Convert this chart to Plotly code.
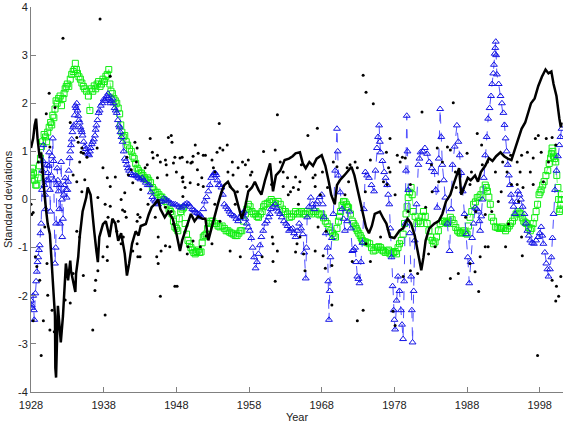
import plotly.graph_objects as go

# ---------------- data ----------------
black_years = [1928.0,1928.3,1928.5,1928.7,1928.9,1929.2,1929.4,1929.6,1929.9,1930.1,1930.3,1930.6,1930.8,1931.0,1931.3,1931.35,1931.45,1931.7,1932.0,1932.1,1932.4,1932.7,1932.8,1933.1,1933.4,1933.5,1933.8,1934.1,1934.2,1934.5,1934.7,1934.9,1935.1,1935.6,1935.8,1936.2,1936.4,1936.7,1937.0,1937.2,1937.4,1937.9,1938.3,1938.8,1939.2,1939.6,1940.0,1940.4,1940.9,1941.2,1941.5,1941.9,1942.4,1942.8,1943.1,1943.8,1944.2,1944.6,1945.0,1945.5,1945.8,1946.4,1946.9,1947.5,1948.0,1948.5,1948.8,1949.2,1949.6,1950.0,1950.5,1951.0,1951.6,1952.0,1952.4,1952.8,1953.3,1953.7,1954.2,1954.6,1955.1,1955.5,1956.0,1956.5,1957.0,1957.4,1957.9,1958.4,1958.8,1959.3,1959.7,1960.2,1960.9,1961.3,1961.7,1962.3,1962.9,1963.5,1964.0,1964.4,1965.0,1965.4,1965.8,1966.3,1966.8,1967.3,1968.0,1968.5,1968.7,1969.0,1969.3,1969.8,1970.1,1970.5,1971.1,1971.6,1972.1,1972.5,1972.8,1973.3,1973.8,1974.1,1974.5,1974.9,1975.3,1976.0,1976.5,1976.9,1977.4,1978.0,1978.7,1979.2,1979.8,1980.3,1980.8,1981.2,1981.7,1982.0,1982.3,1982.8,1983.5,1984.1,1984.6,1985.1,1985.7,1986.1,1986.6,1986.9,1987.2,1987.7,1988.1,1988.5,1989.1,1989.5,1989.9,1990.5,1991.0,1991.5,1992.0,1992.6,1993.1,1993.6,1994.1,1994.7,1995.5,1996.0,1996.8,1997.3,1997.8,1998.3,1998.8,1999.2,1999.6,1999.9,2000.3,2000.7,2000.9,2001.0]
black_vals = [1.07,1.27,1.54,1.68,1.27,0.86,0.98,0.51,0.04,-0.25,-0.51,-0.72,-1.19,-1.89,-2.42,-3.5,-3.7,-2.21,-2.7,-2.97,-2.42,-1.54,-1.33,-1.68,-1.27,-1.48,-1.74,-1.92,-1.54,-1.19,-0.78,-0.51,-0.25,0.04,0.25,0.10,-0.25,-0.66,-1.07,-1.3,-0.78,-0.51,-0.45,-0.78,-0.4,-0.5,-0.86,-0.7,-1.13,-1.58,-1.33,-0.92,-0.66,-0.75,-0.55,-0.51,-0.31,-0.16,-0.1,0.0,-0.2,-0.37,-0.25,-0.4,-0.7,-1.07,-0.85,-0.65,-0.5,-0.3,-0.45,-0.35,-0.4,-0.4,-0.85,-0.6,-0.35,-0.1,0.15,0.3,0.37,0.25,0.17,-0.1,-0.4,-0.2,0.17,0.25,0.37,0.2,0.1,0.4,0.75,0.17,0.5,0.6,0.82,0.85,0.9,0.96,0.98,0.75,0.65,0.78,0.7,0.85,0.92,0.7,0.57,0.35,0.1,-0.1,0.3,0.4,0.5,0.6,0.68,0.5,0.3,-0.04,-0.4,-0.58,-0.7,-0.55,-0.3,-0.25,-0.4,-0.5,-0.78,-0.8,-0.65,-0.6,-0.4,-0.5,-0.75,-1.07,-1.47,-1.2,-0.85,-0.6,-0.5,-0.45,-0.3,-0.04,0.1,0.3,0.5,0.65,0.1,0.3,0.45,0.4,0.5,0.37,0.57,0.7,0.86,0.8,0.9,0.98,0.9,0.85,0.82,1.1,1.47,1.6,2.0,2.1,2.36,2.55,2.7,2.62,2.66,2.4,2.15,1.68,1.5,1.6]

green_years = [1928.0,1928.2,1928.5,1928.8,1929.0,1929.3,1929.6,1930.0,1930.3,1930.7,1931.0,1931.3,1931.6,1932.0,1932.4,1932.7,1933.0,1933.4,1933.8,1934.1,1934.4,1934.8,1935.0,1935.4,1935.9,1936.1,1936.3,1936.7,1937.1,1937.5,1937.9,1938.3,1938.7,1939.0,1939.4,1939.8,1940.2,1940.5,1940.9,1941.3,1941.8,1942.2,1942.6,1943.0,1943.4,1943.8,1944.2,1944.7,1945.1,1945.6,1946.0,1946.5,1947.0,1947.4,1947.8,1948.2,1948.6,1949.0,1949.4,1949.8,1950.2,1950.6,1951.0,1951.4,1951.7,1952.1,1952.5,1953.0,1953.5,1954.0,1954.6,1955.1,1955.6,1956.1,1956.6,1957.0,1957.5,1957.9,1958.4,1958.9,1959.3,1959.8,1960.2,1960.8,1961.3,1962.0,1962.6,1963.0,1963.6,1964.1,1964.7,1965.2,1965.7,1966.3,1966.9,1967.5,1968.0,1968.5,1969.0,1969.5,1969.9,1970.3,1970.6,1971.0,1971.4,1971.7,1972.2,1972.6,1972.9,1973.3,1973.6,1974.0,1974.6,1975.1,1975.6,1976.1,1976.5,1977.0,1977.4,1977.9,1978.3,1978.7,1979.2,1979.6,1979.9,1980.3,1980.6,1981.1,1981.6,1982.0,1982.5,1983.0,1983.4,1983.8,1984.3,1984.9,1985.3,1985.7,1986.2,1986.7,1987.1,1987.6,1988.0,1988.4,1988.9,1989.4,1989.9,1990.5,1990.8,1991.2,1991.4,1991.9,1992.4,1992.8,1993.3,1993.8,1994.0,1994.5,1995.0,1995.4,1995.8,1996.2,1996.7,1997.1,1997.5,1997.9,1998.2,1998.6,1999.1,1999.5,1999.7,1999.9,2000.2,2000.5,2000.7,2000.9,2001.0]
green_vals = [0.57,0.65,0.40,0.30,0.45,0.86,1.2,1.3,1.4,1.6,1.75,1.88,2.0,2.15,2.1,2.3,2.4,2.5,2.66,2.83,2.62,2.5,2.42,2.3,2.15,1.85,2.3,2.36,2.4,2.35,2.5,2.56,2.7,2.25,2.1,2.0,1.78,1.4,1.33,1.13,1.0,0.85,0.65,0.55,0.5,0.42,0.4,0.25,0.15,0.1,0.05,-0.04,-0.2,-0.3,-0.57,-0.65,-0.25,-0.17,-0.72,-0.92,-1.05,-1.13,-1.05,-1.09,-0.78,-0.72,-0.5,-0.45,-0.5,-0.57,-0.6,-0.65,-0.7,-0.75,-0.7,-0.65,-0.3,-0.1,-0.25,-0.3,-0.37,-0.25,-0.1,-0.05,-0.04,-0.04,-0.2,-0.25,-0.37,-0.3,-0.3,-0.25,-0.3,-0.28,-0.25,-0.3,-0.3,-0.45,-0.57,-0.7,-0.78,-0.45,-0.25,-0.04,-0.1,-0.17,-0.45,-0.55,-0.65,-0.75,-0.85,-0.88,-0.92,-1.07,-1.0,-1.0,-1.07,-1.07,-1.13,-1.1,-1.13,-0.92,-0.72,-0.3,0.04,0.25,-0.25,-0.5,-0.5,-0.25,-0.5,-0.78,-0.92,-0.78,-0.5,-0.45,-0.5,-0.37,-0.5,-0.65,-0.7,-0.65,-0.72,-0.37,-0.1,0.04,0.1,0.3,0.17,-0.1,-0.37,-0.57,-0.6,-0.57,-0.65,-0.55,-0.5,-0.37,-0.25,-0.3,-0.45,-0.5,-0.65,-0.5,-0.25,0.1,0.2,0.37,0.6,0.86,1.07,0.9,0.78,0.25,-0.25,-0.1,0.1]
# additional (in-between) green observations
green_years_b = [1928.1,1928.35,1928.65,1929.15,1929.45,1929.8,1930.15,1930.5,1930.85,1931.15,1931.45,1931.8,1932.2,1932.55,1932.85,1933.2,1933.6,1933.95,1934.25,1934.6,1935.2,1935.65,1936.5,1936.9,1937.3,1937.7,1938.1,1938.5,1938.85,1939.2,1939.6,1940.0,1940.35,1940.7,1941.1,1941.55,1942.0,1942.4,1942.8,1943.2,1943.6,1944.0,1944.45,1944.9,1945.35,1945.8,1946.25,1946.75,1947.2,1947.6,1948.0,1948.4,1948.8,1949.2,1949.6,1950.0,1950.4,1950.8,1951.2,1951.55,1951.9,1952.3,1952.75,1953.25,1953.75,1954.3,1954.85,1955.35,1955.85,1956.35,1956.8,1957.25,1957.7,1958.15,1958.65,1959.1,1959.55,1960.0,1960.5,1961.05,1961.65,1962.3,1962.8,1963.3,1963.85,1964.4,1964.95,1965.45,1966.0,1966.6,1967.2,1967.75,1968.25,1968.75,1969.25,1969.7,1970.1,1970.45,1970.8,1971.2,1971.55,1971.95,1972.4,1972.75,1973.1,1973.45,1973.8,1974.3,1974.85,1975.35,1975.85,1976.3,1976.75,1977.2,1977.65,1978.1,1978.5,1978.95,1979.4,1979.75,1980.1,1980.45,1980.85,1981.35,1981.8,1982.25,1982.75,1983.2,1983.6,1984.05,1984.6,1985.1,1985.5,1985.95,1986.45,1986.9,1987.35,1987.8,1988.2,1988.65,1989.15,1989.65,1990.2,1990.65,1991.0,1991.65,1992.15,1992.6,1993.05,1993.55,1994.25,1994.75,1995.2,1995.6,1996.0,1996.45,1996.9,1997.3,1997.7,1998.05,1998.4,1998.85,1999.3,1999.6,1999.8,2000.05,2000.35,2000.6,2000.8,2000.95]
green_vals_b = [0.5,0.55,0.3,0.7,1.1,1.35,1.2,1.5,1.55,1.7,2.05,2.1,1.95,2.2,2.35,2.35,2.6,2.7,2.7,2.55,2.35,2.25,2.25,2.3,2.45,2.4,2.45,2.6,2.4,2.2,2.05,1.9,1.55,1.3,1.2,1.05,0.9,0.75,0.6,0.55,0.45,0.45,0.35,0.2,0.15,0.05,0.0,-0.1,-0.25,-0.45,-0.6,-0.4,-0.2,-0.5,-0.85,-1.0,-1.1,-1.08,-1.1,-0.9,-0.75,-0.6,-0.45,-0.5,-0.55,-0.55,-0.65,-0.68,-0.72,-0.75,-0.65,-0.45,-0.2,-0.15,-0.3,-0.35,-0.3,-0.15,-0.08,0.0,-0.08,-0.1,-0.25,-0.3,-0.35,-0.25,-0.28,-0.3,-0.25,-0.3,-0.25,-0.32,-0.38,-0.5,-0.65,-0.75,-0.6,-0.35,-0.12,-0.05,-0.15,-0.3,-0.5,-0.6,-0.7,-0.8,-0.88,-0.9,-1.0,-1.05,-0.98,-1.05,-1.1,-1.05,-1.12,-1.08,-1.0,-0.85,-0.5,-0.15,0.15,0.1,-0.35,-0.45,-0.35,-0.35,-0.65,-0.85,-0.88,-0.65,-0.45,-0.48,-0.45,-0.42,-0.58,-0.68,-0.68,-0.7,-0.55,-0.25,-0.05,0.05,0.2,0.25,0.05,-0.45,-0.58,-0.6,-0.6,-0.6,-0.45,-0.3,-0.28,-0.38,-0.48,-0.58,-0.6,-0.38,-0.1,0.15,0.3,0.5,0.75,0.95,1.0,0.85,0.5,0.0,-0.2,0.0]

blue_years = [1928.0,1928.15,1928.3,1928.45,1928.6,1928.8,1929.0,1929.2,1929.4,1929.55,1929.7,1929.85,1930.0,1930.2,1930.35,1930.5,1930.65,1930.8,1931.0,1931.15,1931.3,1931.45,1931.6,1931.8,1932.0,1932.15,1932.3,1932.5,1932.7,1932.9,1933.1,1933.3,1933.5,1933.7,1933.9,1934.1,1934.3,1934.5,1934.7,1934.9,1935.1,1935.4,1935.7,1936.0,1936.2,1936.5,1936.8,1937.0,1937.3,1937.6,1938.0,1938.3,1938.6,1938.9,1939.2,1939.5,1939.8,1940.1,1940.3,1940.6,1940.9,1941.2,1941.5,1941.9,1942.4,1942.8,1943.3,1943.8,1944.3,1944.7,1945.1,1945.5,1946.0,1946.5,1947.0,1947.6,1948.1,1948.7,1949.2,1949.7,1950.2,1950.6,1951.1,1951.5,1951.9,1952.4,1952.8,1953.2,1953.5,1953.8,1954.2,1954.6,1955.1,1955.5,1956.0,1956.5,1957.0,1957.3,1957.7,1958.1,1958.5,1958.9,1959.3,1959.7,1960.2,1960.7,1961.0,1961.6,1962.0,1962.5,1963.1,1963.5,1964.0,1964.4,1964.9,1965.4,1965.8,1966.0,1966.5,1967.0,1967.4,1968.0,1968.3,1968.8,1969.0,1969.2,1969.6,1970.1,1970.3,1970.8,1971.2,1971.8,1972.2,1972.6,1972.9,1973.2,1973.6,1974.0,1974.5,1975.2,1975.6,1975.9,1976.1,1976.6,1977.0,1977.3,1977.6,1977.9,1978.1,1978.5,1978.9,1979.2,1979.5,1979.7,1979.9,1980.3,1980.5,1980.8,1981.3,1981.6,1982.2,1982.8,1983.5,1983.9,1984.3,1984.6,1985.0,1985.6,1986.0,1986.6,1987.0,1987.4,1987.9,1988.3,1988.7,1989.1,1989.6,1989.8,1990.1,1990.5,1990.9,1991.3,1991.6,1991.8,1991.95,1992.1,1992.6,1993.0,1993.3,1993.6,1993.9,1994.2,1994.6,1995.0,1995.4,1995.9,1996.3,1996.7,1997.2,1997.8,1998.2,1998.5,1998.9,1999.2,1999.6,1999.9,2000.3,2000.7,2001.0]
blue_vals = [-2.1,-2.25,-2.0,-2.5,-1.95,-1.5,-1.2,-0.95,-0.5,0.6,1.13,0.3,-0.2,0.72,0.4,0.98,-0.25,0.5,1.27,0.4,-1.33,-0.5,0.65,0.17,-0.5,0.78,-0.78,0.1,0.45,0.04,0.37,0.86,1.13,1.4,1.54,1.95,2.0,1.74,1.6,1.45,1.33,1.1,0.98,0.92,1.07,1.2,1.33,1.54,1.8,1.95,2.08,2.1,2.2,2.0,2.1,1.9,1.8,1.54,1.4,1.2,0.85,0.72,0.6,0.51,0.5,0.45,0.45,0.35,0.3,0.05,-0.04,-0.1,-0.04,0.0,-0.04,-0.1,-0.12,-0.17,-0.1,-0.1,-0.2,-0.25,-0.3,-0.37,-0.04,0.17,0.45,0.55,0.51,0.3,0.25,-0.1,-0.2,-0.3,-0.35,-0.45,-0.3,-0.25,-0.5,-0.65,-1.0,-1.43,-1.13,-0.78,-0.5,-0.37,-0.2,-0.1,-0.25,-0.37,-0.5,-0.65,-0.6,-0.78,-0.5,-0.72,-1.64,-0.37,0.04,-0.2,-0.04,0.1,-0.37,-1.0,-2.5,-1.2,-0.3,1.47,0.5,-0.2,-0.65,-0.25,-1.07,-1.0,-1.6,-1.74,-0.9,0.57,0.45,0.17,1.07,1.54,0.98,0.57,0.3,-0.1,-1.2,-2.3,-2.7,-1.6,-2.3,-2.9,-0.5,1.74,0.2,-1.6,-2.97,-0.85,0.72,0.98,1.07,0.78,0.57,-0.17,1.88,0.72,0.04,-1.07,0.72,1.54,0.92,0.17,-0.72,-1.74,-0.8,-0.17,-0.25,-0.65,0.0,0.92,1.68,2.15,2.62,3.03,3.28,2.6,2.15,1.8,1.27,0.72,0.3,-0.04,-0.3,0.17,0.0,-0.3,-0.65,-0.85,-0.92,-0.78,-0.57,-0.92,-1.33,-1.6,-1.2,-0.3,0.6,1.13,1.47]
# additional (in-between) blue observations
blue_years_b = [1928.1,1928.4,1928.7,1928.9,1929.1,1929.3,1929.5,1929.65,1929.95,1930.1,1930.3,1930.45,1930.6,1930.9,1931.1,1931.4,1931.55,1931.7,1931.9,1932.1,1932.25,1932.4,1932.6,1932.8,1933.0,1933.2,1933.4,1933.6,1933.8,1934.0,1934.2,1934.4,1934.6,1934.8,1935.0,1935.25,1935.55,1935.85,1936.1,1936.35,1936.65,1936.9,1937.15,1937.45,1937.8,1938.15,1938.45,1938.75,1939.05,1939.35,1939.65,1939.95,1940.2,1940.45,1940.75,1941.05,1941.35,1941.7,1942.15,1942.6,1943.05,1943.55,1944.05,1944.5,1944.9,1945.3,1945.75,1946.25,1946.75,1947.3,1947.85,1948.4,1948.95,1949.45,1949.95,1950.4,1950.85,1951.3,1951.7,1952.15,1952.6,1953.0,1953.35,1953.65,1954.0,1954.4,1954.85,1955.3,1955.75,1956.25,1956.75,1957.15,1957.5,1957.9,1958.3,1958.7,1959.1,1959.5,1959.95,1960.45,1960.85,1961.3,1961.8,1962.25,1962.8,1963.3,1963.75,1964.2,1964.65,1965.15,1965.6,1965.9,1966.25,1966.75,1967.2,1967.7,1968.15,1968.55,1968.9,1969.1,1969.4,1969.85,1970.2,1970.55,1971.0,1971.5,1972.0,1972.4,1972.75,1973.05,1973.4,1973.8,1974.25,1974.85,1975.4,1975.75,1976.0,1976.35,1976.8,1977.15,1977.45,1977.75,1978.0,1978.3,1978.7,1979.05,1979.35,1979.6,1979.8,1980.1,1980.4,1980.65,1981.05,1981.45,1981.9,1982.5,1983.15,1983.7,1984.1,1984.45,1984.8,1985.3,1985.8,1986.3,1986.8,1987.2,1987.65,1988.1,1988.5,1988.9,1989.35,1989.7,1989.95,1990.3,1990.7,1991.1,1991.45,1991.7,1991.88,1992.0,1992.35,1992.8,1993.15,1993.45,1993.75,1994.05,1994.4,1994.8,1995.2,1995.65,1996.1,1996.5,1996.95,1997.5,1998.0,1998.35,1998.7,1999.05,1999.4,1999.75,2000.1,2000.5,2000.85]
blue_vals_b = [-2.2,-2.3,-1.7,-1.3,-1.05,-0.7,0.2,0.8,0.1,0.4,0.55,0.7,0.2,0.9,0.8,-1.0,0.3,0.4,-0.2,0.3,0.0,-0.4,0.3,0.2,0.2,0.6,1.0,1.25,1.5,1.75,1.9,1.85,1.65,1.5,1.4,1.2,1.05,0.95,1.0,1.15,1.25,1.45,1.65,1.85,2.0,2.05,2.15,2.1,2.05,2.0,1.85,1.65,1.5,1.3,1.0,0.8,0.65,0.55,0.5,0.48,0.42,0.4,0.3,0.15,0.0,-0.08,-0.05,0.02,-0.02,-0.08,-0.1,-0.15,-0.13,-0.08,-0.15,-0.22,-0.28,-0.33,-0.2,0.05,0.3,0.5,0.55,0.4,0.3,0.1,-0.15,-0.25,-0.33,-0.4,-0.38,-0.28,-0.4,-0.58,-0.8,-1.2,-1.3,-0.95,-0.65,-0.45,-0.3,-0.15,-0.18,-0.3,-0.45,-0.55,-0.62,-0.7,-0.65,-0.6,-1.1,-1.0,-0.15,-0.1,-0.1,0.05,-0.1,-0.7,-1.7,-1.9,-0.8,0.6,1.0,0.15,-0.4,-0.45,-0.6,-1.05,-1.3,-1.65,-1.3,-0.2,0.5,0.3,0.6,1.3,1.2,0.8,0.45,0.1,-0.6,-1.8,-2.5,-2.1,-1.9,-2.6,-1.7,0.6,1.0,-0.7,-2.3,-1.9,-0.1,0.85,1.0,0.95,0.65,0.2,0.85,1.3,0.4,-0.5,-0.2,1.1,1.2,0.55,-0.3,-1.2,-1.3,-0.5,-0.2,-0.45,-0.35,0.45,1.3,1.9,2.4,2.8,3.15,3.0,2.4,2.0,1.55,1.0,0.5,0.1,-0.15,-0.05,0.1,-0.15,-0.5,-0.75,-0.9,-0.85,-0.7,-0.75,-1.1,-1.45,-1.45,-0.8,0.2,0.9,1.3]

dot_years = [1937.5,1932.4,1930.5,1930.1,1931.3,1933.4,1934.3,1934.5,1935.0,1935.2,1935.7,1934.7,1933.8,1934.3,1935.0,1937.9,1938.5,1938.9,1939.6,1937.1,1938.9,1929.0,1929.5,1930.6,1928.1,1928.6,1928.8,1929.2,1930.2,1930.3,1930.9,1930.6,1929.4,1929.7,1928.3,1931.2,1933.4,1932.7,1933.8,1935.2,1936.5,1936.8,1936.9,1937.2,1938.2,1938.5,1937.9,1938.5,1940.7,1939.8,1940.0,1940.9,1942.6,1942.6,1943.0,1943.0,1945.3,1945.5,1945.8,1946.5,1947.1,1947.6,1947.8,1934.3,1934.7,1928.0,1928.3,1929.9,1934.9,1935.4,1938.2,1938.9,1938.6,1937.2,
             1946.9,1947.4,1944.7,1944.8,1945.4,1945.8,1946.5,1947.6,1948.8,1949.5,1950.2,1951.0,1948.8,1949.2,1945.4,1946.7,1944.0,1942.6,1942.3,1941.2,1944.4,1947.3,1950.6,1952.0,1947.8,1950.0,1948.0,1948.9,1949.9,1951.0,1946.6,1943.7,1942.5,1941.8,1941.4,1942.0,1940.9,1940.4,1943.1,1940.6,1941.1,1942.7,1944.1,1945.1,1946.5,1947.3,1940.4,1942.0,1942.7,1945.5,1945.9,1948.1,1949.6,1950.3,1952.1,
             1953.9,1961.9,1967.4,1966.1,1955.0,1954.4,1953.6,1950.3,1948.5,1951.7,1952.9,1955.7,1957.1,1957.9,1957.5,1960.0,1961.6,1962.3,1950.9,1953.1,1953.3,1951.5,1955.1,1955.8,1958.4,1962.7,1963.3,1964.4,1965.0,1966.8,1968.1,1969.6,1970.1,1971.5,1971.9,1972.6,1972.9,1948.9,1951.7,1948.9,1955.4,1956.4,1957.7,1962.7,1963.7,1964.8,1967.1,1968.8,1974.0,
             1973.7,1974.1,1975.1,1986.1,1981.8,1977.4,1989.4,1974.7,1978.4,1979.1,1979.5,1978.8,1983.9,1985.3,1985.7,1984.6,1988.0,1994.0,1994.9,1996.3,1997.1,1997.4,1999.7,2000.2,1977.4,1977.0,1978.1,1980.2,1983.2,1987.3,1988.4,1990.1,1990.8,1992.9,1993.5,1995.3,1996.7,1994.9,1995.7,1997.1,1998.5,1999.2,1990.0,1991.9,1994.1,1995.5,1997.8,1998.2,1998.9,1992.7,1995.1,1992.3,1990.5,1991.4,1993.7,1995.5,1990.9,1989.8,1989.6,2000.3,2000.6,2000.2,2000.9,
             1949.5,1951.3,1952.9,1955.4,1956.8,1959.8,1961.2,1961.3,1961.6,1961.9,1964.4,1964.6,1965.5,1965.7,1968.2,1968.5,1969.4,1969.4,1972.2,1972.9,1973.7,1974.7,1976.1,1977.8,1978.1,1979.2,1980.2,1981.2,1982.7,1983.6,1985.7,1986.8,1988.4,1989.1,1990.5,1993.3,1995.6,1997.7,1999.7,
             1954.0,1956.5,1958.2,1961.1,1964.1,1964.8,1963.4,1956.1,1953.3,1954.0,1961.3,1965.0,1965.2,1967.1,1967.8,1971.7,1971.2,1976.9,1977.2,1976.5,1974.1,1968.6,1967.5,1967.1,1983.1,1984.1,1986.4,1988.6,1986.5,1979.9,1982.3,1987.8,1989.2]
dot_vals = [3.75,3.35,2.21,1.78,1.91,1.60,1.29,1.19,1.07,0.96,0.88,0.78,0.51,0.37,0.16,0.66,0.45,0.27,0.47,1.07,2.56,0.78,0.57,1.09,-0.31,-1.19,-1.39,-1.68,-1.33,-1.99,-2.30,-2.71,-3.24,-2.52,-2.52,-2.75,-2.15,-2.09,-1.54,-1.58,-2.71,-1.89,-1.68,-1.48,-2.40,-1.27,-1.19,-0.98,-0.78,-0.66,-0.45,-0.25,-0.45,-0.92,-1.19,-0.37,-1.19,-1.33,-2.01,-0.96,-0.98,-0.51,-1.80,-0.66,-0.78,-0.10,-0.27,-0.57,0.98,0.41,-0.10,-0.14,-0.37,0.04,
            1.29,1.19,0.98,0.86,0.92,0.78,0.82,0.76,0.88,0.78,0.78,0.96,0.45,0.25,0.45,0.51,0.72,1.07,1.19,0.88,1.27,1.33,1.13,0.92,0.88,0.76,0.57,0.47,0.35,0.31,0.72,0.66,0.78,0.62,0.51,0.35,0.14,0.00,0.21,-0.22,-0.37,-0.31,-0.10,-0.37,-0.16,-0.25,-0.92,-1.07,-1.19,-0.78,-1.07,-1.80,-0.98,-0.86,-0.76,
            1.58,1.76,1.48,1.33,1.13,1.03,0.98,0.90,0.86,0.92,0.82,0.78,0.78,0.82,0.72,1.00,1.03,0.78,0.62,0.66,0.57,0.45,0.57,0.51,0.57,0.57,0.45,0.47,0.37,0.45,0.57,0.78,0.68,0.66,0.72,0.78,0.66,0.37,0.27,0.06,0.27,0.16,0.27,0.27,0.16,0.21,0.27,0.25,0.16,
            2.58,2.23,1.99,2.01,1.82,1.27,1.37,0.82,0.92,0.88,0.86,0.78,1.07,1.09,1.03,0.78,0.96,0.92,0.78,0.98,0.86,1.27,1.29,1.13,0.57,0.31,0.10,0.31,0.16,0.16,0.31,0.72,0.78,0.78,0.57,0.57,0.57,0.31,0.25,0.31,0.37,0.78,1.13,0.57,0.31,0.92,1.33,0.98,1.27,0.16,-0.04,-0.04,-0.31,-0.25,-0.51,-0.78,-0.98,-1.19,-1.91,-1.80,-2.01,-2.11,-1.60,
            -1.13,-0.98,-0.92,-1.07,-1.19,-1.19,-0.78,-1.29,-1.70,-1.07,-1.09,-0.92,-1.13,-1.48,-1.17,-1.43,-1.37,-2.19,-1.29,-2.52,-2.30,-1.29,-0.78,-2.32,-2.62,-1.60,-1.48,-1.54,-1.13,-0.98,-1.64,-1.54,-1.33,-1.50,-0.98,-0.98,-1.17,-3.24,-1.68,
            1.07,0.66,0.51,0.31,0.25,-0.10,0.10,-0.10,-0.10,-0.45,-0.92,-0.78,0.72,0.51,0.10,0.37,0.10,0.98,0.66,0.37,-0.92,-0.66,-0.57,-1.07,0.72,0.37,0.57,0.57,0.25,-0.25,-0.16,-0.37,-0.25]

x_ticks = [1928, 1938, 1948, 1958, 1968, 1978, 1988, 1998]
y_ticks = [-4, -3, -2, -1, 0, 1, 2, 3, 4]

# merge the two sets of observations of each series in time order
def merged(ya, va, yb, vb):
    pairs = sorted(zip(ya + yb, va + vb))
    return [p[0] for p in pairs], [p[1] for p in pairs]

gx, gy = merged(green_years, green_vals, green_years_b, green_vals_b)
bx, by = merged(blue_years, blue_vals, blue_years_b, blue_vals_b)

# ---------------- figure ----------------
FONT = "Liberation Sans, Arial, sans-serif"
fig = go.Figure()

fig.add_trace(go.Scatter(
    x=gx, y=gy, mode="lines+markers",
    line=dict(color="#66FF66", width=1, dash="dash"),
    marker=dict(symbol="square-open", size=6, color="#11EE11", line=dict(width=1)),
    showlegend=False))

fig.add_trace(go.Scatter(
    x=bx, y=by, mode="lines+markers",
    line=dict(color="#5050FF", width=1, dash="dash"),
    marker=dict(symbol="triangle-up-open", size=6, color="#1515E5", line=dict(width=1)),
    showlegend=False))

fig.add_trace(go.Scatter(
    x=black_years, y=black_vals, mode="lines",
    line=dict(color="black", width=2.5),
    showlegend=False))

fig.add_trace(go.Scatter(
    x=dot_years, y=dot_vals, mode="markers",
    marker=dict(symbol="circle", size=3, color="black"),
    showlegend=False))

axis_common = dict(
    showgrid=False, zeroline=False, showline=True, linecolor="#808080", linewidth=1,
    ticks="inside", ticklen=5, tickcolor="#808080", mirror=False,
    tickfont=dict(family=FONT, size=11, color="#222"),
    ticklabeloverflow="allow",
)

fig.update_xaxes(range=[1928, 2001.2], tickvals=x_ticks, ticktext=[str(t) for t in x_ticks],
                 ticklabelstandoff=3,
                 title=dict(text="Year", font=dict(family=FONT, size=11, color="#222"), standoff=3),
                 **axis_common)
fig.update_yaxes(range=[-4, 4], tickvals=y_ticks, ticktext=[str(t) for t in y_ticks],
                 title=dict(text="Standard deviations", font=dict(family=FONT, size=11, color="#222"), standoff=3),
                 **axis_common)

fig.update_layout(
    width=565, height=426,
    margin=dict(l=31, r=2, t=7, b=34, autoexpand=False),
    plot_bgcolor="white", paper_bgcolor="white",
    font=dict(family=FONT, size=11, color="#222"),
)

fig.write_html("out.html")
